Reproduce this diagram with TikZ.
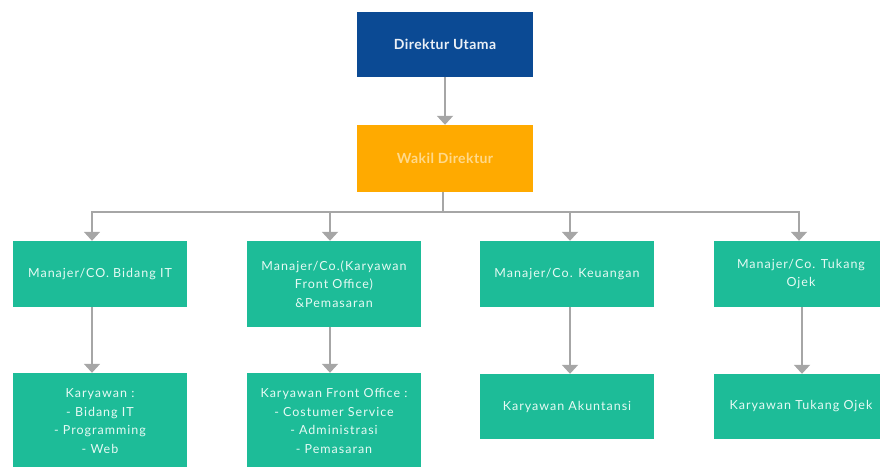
\documentclass[tikz,border=0pt]{standalone}
\usepackage{fontspec}
\setmainfont{Lato}
\newfontfamily\boxfont[LetterSpace=8]{Lato}
\newfontfamily\headfont[LetterSpace=3]{Lato}
\usetikzlibrary{arrows.meta}
\definecolor{navy}{HTML}{0B4A94}
\definecolor{orng}{HTML}{FFAA00}
\definecolor{tealb}{HTML}{1DBC98}
\definecolor{lineg}{HTML}{A6A6A6}
\definecolor{txtw}{HTML}{E6FAF4}
\definecolor{txto}{HTML}{FFD98A}
\begin{document}
\begin{tikzpicture}[x=1pt,y=-1pt,
  box/.style={fill=tealb, draw=none, text=txtw, align=center, inner sep=0pt,
    font=\boxfont\fontsize{12.5}{18.5}\selectfont},
  conn/.style={draw=lineg, line width=2pt, -{Triangle[width=16pt,length=9pt]}},
  plain/.style={draw=lineg, line width=2pt}]
\useasboundingbox (0,0) rectangle (880,466);
\clip (0,0) rectangle (880,466);
% top level
\node[fill=navy, minimum width=176pt, minimum height=65pt, inner sep=0pt,
  text=white!92!navy, font=\headfont\bfseries\fontsize{14}{16}\selectfont] (du) at (445,44.5) {Direktur Utama};
\node[fill=orng, minimum width=176pt, minimum height=67pt, inner sep=0pt,
  text=txto, font=\headfont\bfseries\fontsize{14}{16}\selectfont] (wd) at (445,158.5) {Wakil Direktur};
% managers
\node[box, minimum width=174pt, minimum height=66pt] (m1) at (100,274) {Manajer/CO. Bidang IT};
\node[box, minimum width=174pt, minimum height=86pt] (m2) at (334,284) {Manajer/Co.(Karyawan\\Front Office)\\\&Pemasaran};
\node[box, minimum width=174pt, minimum height=66pt] (m3) at (567,274) {Manajer/Co. Keuangan};
\node[box, minimum width=174pt, minimum height=66pt] (m4) at (801,274) {Manajer/Co. Tukang\\Ojek};
% staff
\node[box, minimum width=174pt, minimum height=96pt] (k1) at (100,421) {Karyawan :\\- Bidang IT\\- Programming\\- Web};
\node[box, minimum width=174pt, minimum height=96pt] (k2) at (334,421) {Karyawan Front Office :\\- Costumer Service\\- Administrasi\\- Pemasaran};
\node[box, minimum width=174pt, minimum height=65pt] (k3) at (567,406.5) {Karyawan Akuntansi};
\node[box, minimum width=174pt, minimum height=65pt] (k4) at (801,406.5) {Karyawan Tukang Ojek};
% coordinates
\coordinate (bus) at (443,211.5);
\coordinate (b1) at (92,211.5);
\coordinate (b2) at (330,211.5);
\coordinate (b3) at (570,211.5);
\coordinate (b4) at (799,211.5);
% connectors
\draw[conn] (du.south) -- (wd.north);
\draw[plain] (wd.south -| bus) -- (bus);
\draw[plain] ([xshift=-1pt]b1) -- ([xshift=1pt]b4);
\draw[conn] (b1) -- (b1 |- m1.north);
\draw[conn] (b2) -- (b2 |- m2.north);
\draw[conn] (b3) -- (b3 |- m3.north);
\draw[conn] (b4) -- (b4 |- m4.north);
\draw[conn] (m1.south -| b1) -- (k1.north -| b1);
\draw[conn] (m2.south -| b2) -- (k2.north -| b2);
\draw[conn] (m3.south -| b3) -- (k3.north -| b3);
\draw[conn] ([xshift=3pt]m4.south -| b4) -- ([xshift=3pt]k4.north -| b4);
\end{tikzpicture}
\end{document}
